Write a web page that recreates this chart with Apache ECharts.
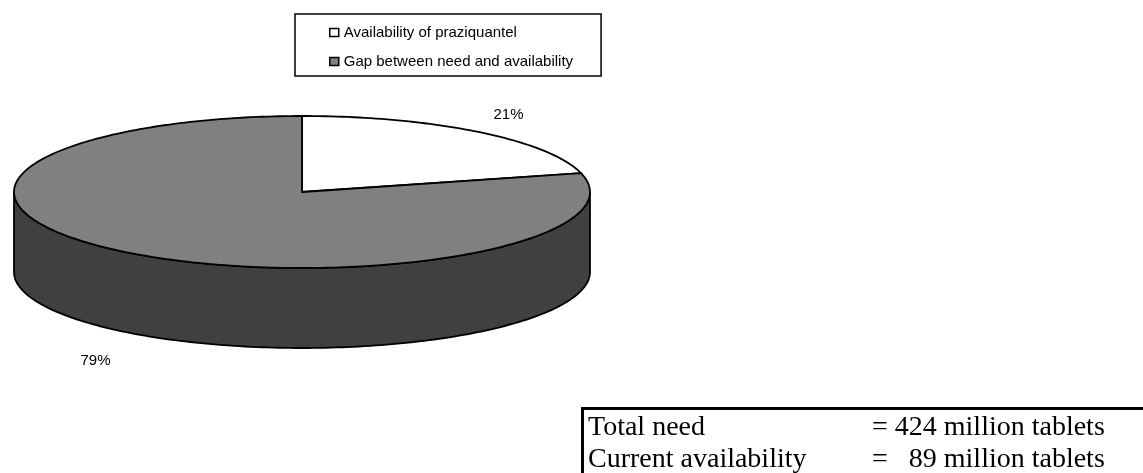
<!DOCTYPE html>
<html>
<head>
<meta charset="utf-8">
<script src="https://cdn.jsdelivr.net/npm/echarts@6/dist/echarts.min.js"></script>
<style>
html,body{margin:0;padding:0;background:#fff;}
#main{width:1143px;height:473px;}
</style>
</head>
<body>
<div id="main"></div>
<script>
var sliceNames = ['Availability of praziquantel', 'Gap between need and availability'];
var sliceShares = [21, 79];
var noteRows = ['Total need', 'Current availability'];
var noteValues = ['= 424 million tablets', '=   89 million tablets'];

var topColors = ['#ffffff', '#808080'];
var sideColors = ['#c0c0c0', '#404040'];

//3d pie geometry
var cx = 302, cy = 192, rx = 288, ry = 76, depth = 80;
var total = sliceShares.reduce(function(a, b){ return a + b; }, 0);

function pt(t, dy){
    return [cx + rx * Math.sin(t), cy - ry * Math.cos(t) + dy];
}
function arc(a, b, dy){
    var pts = [], n = Math.max(2, Math.ceil((b - a) / 0.02));
    for(var k = 0; k <= n; k++){
        pts.push(pt(a + (b - a) * k / n, dy));
    }
    return pts;
}

function renderSlice(params, api){
    var i = params.seriesIndex;
    var before = 0;
    for(var k = 0; k < i; k++) before += sliceShares[k];
    var a = before / total * 2 * Math.PI;
    var b = a + api.value(0) / total * 2 * Math.PI;
    var children = [];
    //front wall, only the part facing the viewer
    var sa = Math.max(a, Math.PI / 2), sb = Math.min(b, Math.PI * 1.5);
    if(sa < sb){
        var upper = arc(sa, sb, 0), lower = arc(sa, sb, depth).reverse();
        children.push({
            type: 'polygon', z2: 1,
            shape: {points: upper.concat(lower)},
            style: {fill: sideColors[i], stroke: '#000', lineWidth: 1.8}
        });
    }
    children.push({
        type: 'polygon', z2: 2,
        shape: {points: [[cx, cy]].concat(arc(a, b, 0))},
        style: {fill: topColors[i], stroke: '#000', lineWidth: 1.8}
    });
    //percent label
    var m = (a + b) / 2, down = Math.cos(m) < 0;
    children.push({
        type: 'text', z2: 3,
        style: {
            text: api.value(0) + '%',
            x: cx + rx * 1.17 * Math.sin(m),
            y: cy - ry * (down ? 1.48 : 1.28) * Math.cos(m) + (down ? depth : 0),
            font: '15px "Liberation Sans", Arial, sans-serif',
            fill: '#000', align: 'center', verticalAlign: 'middle'
        }
    });
    return {type: 'group', children: children};
}

var chart = echarts.init(document.getElementById('main'));
var series = sliceNames.map(function(name, i){
    return {
        name: name,
        type: 'custom',
        coordinateSystem: 'none',
        renderItem: renderSlice,
        itemStyle: {color: topColors[i]},
        data: [[sliceShares[i]]]
    };
});

//note box under the pie
var notes = [];
noteRows.forEach(function(txt, i){
    notes.push({
        type: 'text', left: 588, top: 414 + i * 32,
        style: {text: txt, font: '28px "Liberation Serif", serif', fill: '#000'}
    });
    notes.push({
        type: 'text', left: 872, top: 414 + i * 32,
        style: {text: noteValues[i], font: '28px "Liberation Serif", serif', fill: '#000'}
    });
});

chart.setOption({
    animation: false,
    legend: {
        orient: 'vertical',
        left: 295, top: 14,
        padding: [11, 28, 7, 34],
        itemGap: 14,
        itemWidth: 9, itemHeight: 8,
        icon: 'rect',
        selectedMode: false,
        backgroundColor: '#fff',
        borderColor: '#000', borderWidth: 1.5,
        itemStyle: {borderColor: '#000', borderWidth: 1.5},
        textStyle: {fontFamily: '"Liberation Sans", Arial, sans-serif', fontSize: 15, color: '#000'},
        data: sliceNames
    },
    graphic: [{
        type: 'rect', left: 580, top: 406,
        shape: {width: 600, height: 120},
        style: {fill: 'none', stroke: '#000', lineWidth: 3}
    }].concat(notes),
    series: series
});
</script>
</body>
</html>
